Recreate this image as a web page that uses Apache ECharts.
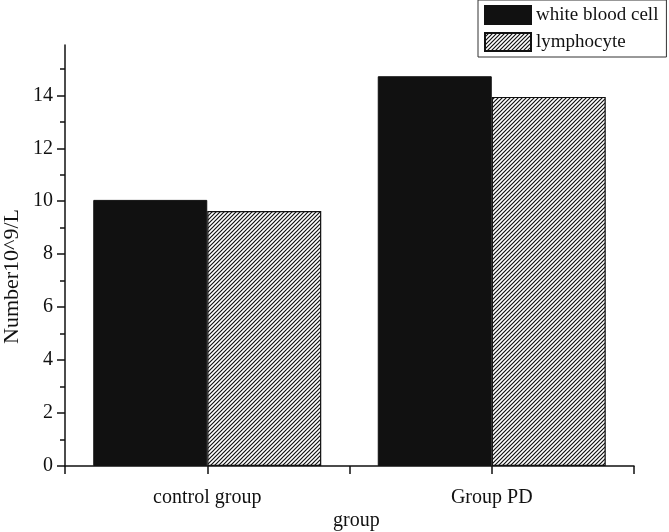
<!DOCTYPE html>
<html>
<head>
<meta charset="utf-8">
<script src="https://cdn.jsdelivr.net/npm/echarts@6/dist/echarts.min.js"></script>
<style>html,body{margin:0;padding:0;background:#fff;}#c{width:669px;height:532px;}</style>
</head>
<body>
<div id="c"></div>
<script>
var categories = ["control group", "Group PD"];
var seriesNames = ["white blood cell", "lymphocyte"];
var whiteBloodCell = [10.05, 14.72];
var lymphocyte = [9.63, 13.94];
var yMajorTicks = [0, 2, 4, 6, 8, 10, 12, 14];
var yMinorTicks = [1, 3, 5, 7, 9, 11, 13, 15];

var FONT = '"Liberation Serif", "DejaVu Serif", serif';

// hatch pattern
var tile = document.createElement('canvas');
tile.width = 4; tile.height = 4;
var g = tile.getContext('2d');
g.fillStyle = '#fff'; g.fillRect(0, 0, 4, 4);
g.strokeStyle = '#111'; g.lineWidth = 1.2;
g.beginPath();
g.moveTo(-1, 5); g.lineTo(5, -1);
g.moveTo(-1, 1); g.lineTo(1, -1);
g.moveTo(3, 5); g.lineTo(5, 3);
g.stroke();

// category axis with blank slots at the boundaries
var axisCats = ['', categories[0], '', categories[1], ''];
function spread(arr) { return ['-', arr[0], '-', arr[1], '-']; }

var chart = echarts.init(document.getElementById('c'), null, {renderer: 'canvas'});
chart.setOption({
  backgroundColor: '#fff',
  animation: false,
  textStyle: {fontFamily: FONT},
  grid: {left: 65, right: 35, top: 45, bottom: 66, containLabel: false},
  legend: {
    orient: 'vertical', left: 478, top: 0,
    padding: [5, 8, 5, 6], itemGap: 7, itemWidth: 46, itemHeight: 18,
    borderColor: '#333', borderWidth: 1,
    textStyle: {fontFamily: FONT, fontSize: 19, color: '#111'},
    data: [{name: seriesNames[0], icon: 'rect'}, {name: seriesNames[1], icon: 'rect'}]
  },
  xAxis: {
    type: 'category', data: axisCats, boundaryGap: false,
    axisLine: {lineStyle: {color: '#111', width: 1.5}},
    axisTick: {show: true, length: 8, lineStyle: {color: '#111', width: 1.5}},
    axisLabel: {fontFamily: FONT, fontSize: 20, color: '#111', margin: 22, interval: 0}
  },
  yAxis: [{
    type: 'value', min: 0, max: 15.9,
    splitLine: {show: false},
    axisLine: {show: true, lineStyle: {color: '#111', width: 1.5}},
    axisTick: {show: true, length: 8, customValues: yMajorTicks, lineStyle: {color: '#111', width: 1.5}},
    axisLabel: {customValues: yMajorTicks, fontFamily: FONT, fontSize: 20, color: '#111', margin: 12}
  }, {
    type: 'value', min: 0, max: 15.9, position: 'left', offset: 0,
    splitLine: {show: false},
    axisLine: {show: false},
    axisTick: {show: true, length: 5, customValues: yMinorTicks, lineStyle: {color: '#111', width: 1.5}},
    axisLabel: {show: false}
  }],
  graphic: [
    {type: 'text', left: 333, top: 511, style: {text: 'group', font: '20px ' + FONT, fill: '#111'}},
    {type: 'text', x: 1, y: 344, rotation: Math.PI / 2,
     style: {text: 'Number10^9/L', font: '22px ' + FONT, fill: '#111', textAlign: 'left', textVerticalAlign: 'top'}}
  ],
  series: [{
    name: seriesNames[0], type: 'bar', barWidth: 114, barGap: '0%',
    data: spread(whiteBloodCell),
    itemStyle: {color: '#111', borderColor: '#111', borderWidth: 1}
  }, {
    name: seriesNames[1], type: 'bar', barWidth: 114, barGap: '0%',
    data: spread(lymphocyte),
    itemStyle: {color: {image: tile, repeat: 'repeat'}, borderColor: '#111', borderWidth: 1.2}
  }]
});
</script>
</body>
</html>
